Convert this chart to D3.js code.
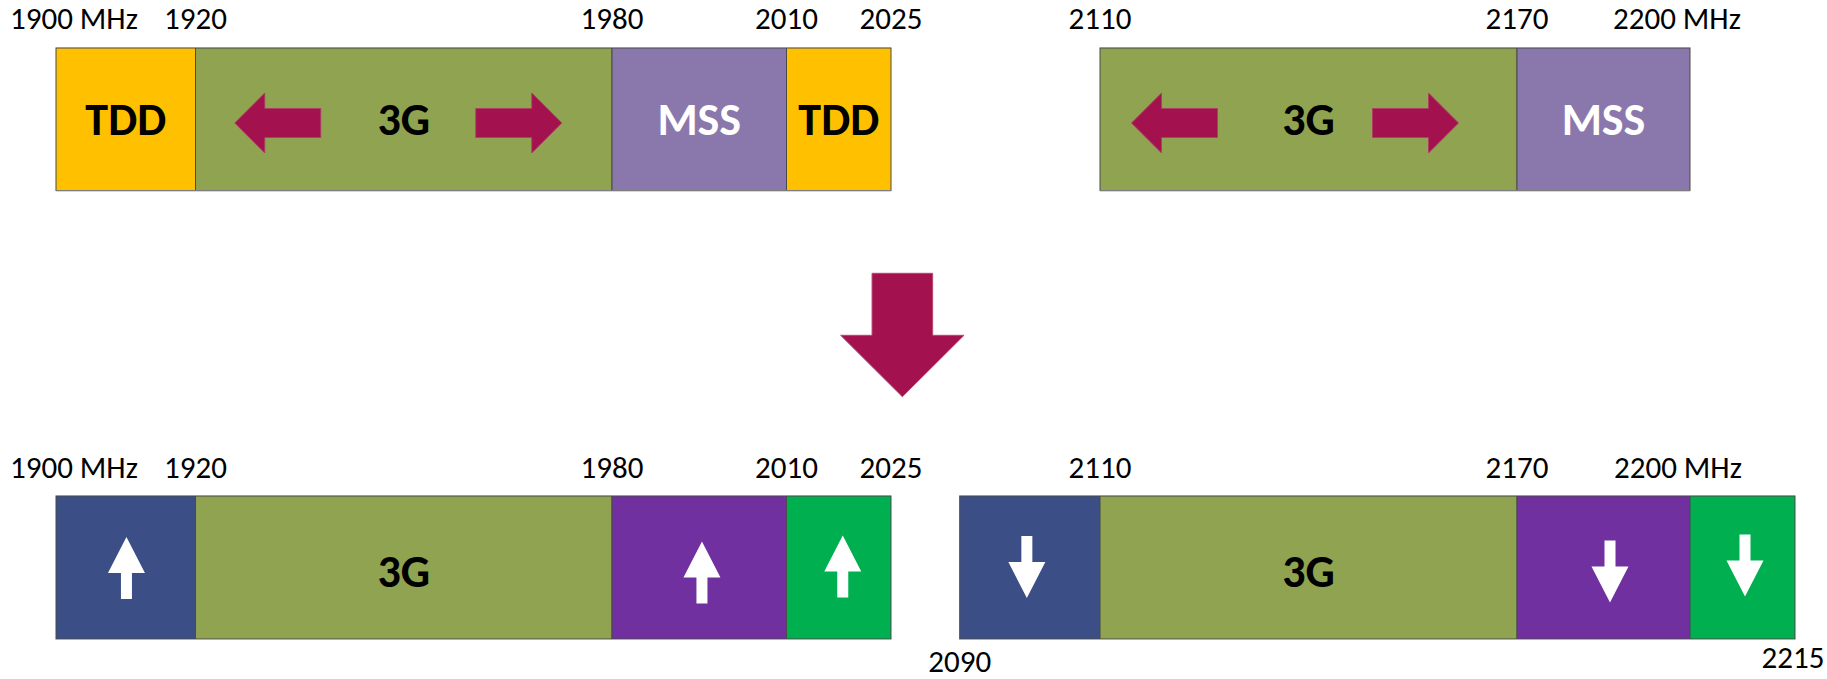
<!DOCTYPE html>
<html>
<head>
<meta charset="utf-8">
<script src="https://cdn.jsdelivr.net/npm/d3@7"></script>
<style>
  html, body { margin: 0; padding: 0; background: #ffffff; }
  svg { display: block; }
  .tick { font-family: Carlito, "Liberation Sans Narrow", Lato, sans-serif; font-size: 31px; fill: #000; }
  .seg { font-family: Carlito, "Liberation Sans Narrow", Lato, sans-serif; font-size: 46px; font-weight: bold; }
</style>
</head>
<body>
<script>
// ---------------- data ----------------
const leftEdges   = [1900, 1920, 1980, 2010, 2025];   // MHz
const rightEdges  = [2090, 2110, 2170, 2200, 2215];   // MHz
const topRightEdges = [2110, 2170, 2200];              // MHz

const topLeftKinds   = ["TDD", "3G", "MSS", "TDD"];
const topRightKinds  = ["3G", "MSS"];
const botLeftKinds   = ["UL1", "3G", "UL2", "UL3"];
const botRightKinds  = ["DL1", "3G", "DL2", "DL3"];

const topLeftText    = ["TDD", "3G", "MSS", "TDD"];
const topRightText   = ["3G", "MSS"];
const botLeftText    = ["", "3G", "", ""];
const botRightText   = ["", "3G", "", ""];

const botLeftDir     = ["up", null, "up", "up"];
const botRightDir    = ["down", null, "down", "down"];

const topLeftTicks   = ["1900 MHz", "1920", "1980", "2010", "2025"];
const topRightTicks  = ["2110", "2170", "2200 MHz"];
const botLeftTicks   = ["1900 MHz", "1920", "1980", "2010", "2025"];
const botRightTicksAbove = ["2110", "2170", "2200 MHz"];
const botRightTicksBelow = ["2090", "2215"];

// ---------------- styles ----------------
const fillOf = {
  "TDD": "#FFC000", "3G": "#8FA350", "MSS": "#8A78AD",
  "UL1": "#3B4E85", "UL2": "#7030A0", "UL3": "#00B050",
  "DL1": "#3B4E85", "DL2": "#7030A0", "DL3": "#00B050"
};
const textColorOf = { "MSS": "#ffffff" };
const maroon = "#A3114F";

// ---------------- layout ----------------
const W = 1827, H = 679;
const svg = d3.select("body").append("svg").attr("width", W).attr("height", H);

// piecewise scales (diagram is not exactly to scale: MSS block compressed)
const xL = d3.scaleLinear().domain(leftEdges).range([56, 195.5, 612, 786.5, 891]);
const xR = d3.scaleLinear().domain(rightEdges).range([959.7, 1100, 1517, 1690, 1795]);
const rowTop = { y0: 48, y1: 190.5 };
const rowBot = { y0: 496, y1: 639 };

function segs(edges, kinds, texts) {
  return kinds.map((k, i) => ({ from: edges[i], to: edges[i + 1], kind: k, text: texts[i], i }));
}

function drawBand(data, x, row, textDy) {
  const g = svg.append("g");
  g.selectAll("rect").data(data).join("rect")
    .attr("x", d => x(d.from)).attr("y", row.y0)
    .attr("width", d => x(d.to) - x(d.from)).attr("height", row.y1 - row.y0)
    .attr("fill", d => fillOf[d.kind])
    .attr("stroke", "#4a4a4a").attr("stroke-width", 1);
  const xa = x(data[0].from), xb = x(data[data.length - 1].to);
  g.append("line").attr("x1", xa).attr("x2", xb).attr("y1", row.y0 - 0.5).attr("y2", row.y0 - 0.5)
    .attr("stroke", "#9a9a9a").attr("stroke-width", 1.2);
  g.append("line").attr("x1", xa).attr("x2", xb).attr("y1", row.y1 + 0.5).attr("y2", row.y1 + 0.5)
    .attr("stroke", "#b0b0b0").attr("stroke-width", 1);
  g.selectAll("text").data(data.filter(d => d.text)).join("text")
    .attr("class", "seg")
    .attr("x", d => (x(d.from) + x(d.to)) / 2)
    .attr("y", (row.y0 + row.y1) / 2 + textDy)
    .attr("text-anchor", "middle").attr("dominant-baseline", "central")
    .attr("fill", d => textColorOf[d.kind] || "#000")
    .text(d => d.text);
  return g;
}

function drawTicks(values, labels, x, baseline, opts = {}) {
  svg.append("g").selectAll("text").data(values.map((v, i) => ({ v, label: labels[i] })))
    .join("text").attr("class", "tick")
    .attr("x", d => /MHz/.test(d.label) ? x(d.v) - (opts.mhzShift || 46) : x(d.v))
    .attr("y", baseline)
    .attr("text-anchor", d => /MHz/.test(d.label) ? "start" : "middle")
    .text(d => d.label);
}

function hArrow(xt, xe, cy, headLen, headHalf, shaftHalf) {
  const s = Math.sign(xe - xt);
  const xb = xt + s * headLen;
  return `M${xt},${cy} L${xb},${cy - headHalf} L${xb},${cy - shaftHalf} L${xe},${cy - shaftHalf} ` +
         `L${xe},${cy + shaftHalf} L${xb},${cy + shaftHalf} L${xb},${cy + headHalf} Z`;
}
function vArrow(cx, yt, ye, headLen, headHalf, shaftHalf) {
  const s = Math.sign(ye - yt);
  const yb = yt + s * headLen;
  return `M${cx},${yt} L${cx + headHalf},${yb} L${cx + shaftHalf},${yb} L${cx + shaftHalf},${ye} ` +
         `L${cx - shaftHalf},${ye} L${cx - shaftHalf},${yb} L${cx - headHalf},${yb} Z`;
}

// ---------- top row ----------
const tl = segs(leftEdges, topLeftKinds, topLeftText);
const tr = segs(topRightEdges, topRightKinds, topRightText);
drawBand(tl, xL, rowTop, 0);
drawBand(tr, xR, rowTop, 0);
drawTicks(leftEdges, topLeftTicks, xL, 28.5, { mhzShift: 46 });
drawTicks(topRightEdges, topRightTicks, xR, 28.5, { mhzShift: 77 });

function twinArrows(seg, x, cy, shift) {
  const c = (x(seg.from) + x(seg.to)) / 2 + shift;
  const g = svg.append("g").attr("fill", maroon).attr("stroke", "#b03a68").attr("stroke-width", 0.8);
  g.append("path").attr("d", hArrow(c - 173, c - 87, cy, 30, 30, 14.5));
  g.append("path").attr("d", hArrow(c + 154, c + 68, cy, 30, 30, 14.5));
}
twinArrows(tl[1], xL, 123, 4);
twinArrows(tr[0], xR, 123, -4);

// ---------- big down arrow ----------
{
  const cx = (xL(2025) + xR(2090)) / 2 - 23;
  svg.append("path")
    .attr("d", vArrow(cx, 396.7, 273.3, 61.4, 61.7, 30.3))
    .attr("fill", maroon).attr("stroke", "#b8456f").attr("stroke-width", 1);
}

// ---------- bottom row ----------
const bl = segs(leftEdges, botLeftKinds, botLeftText);
const br = segs(rightEdges, botRightKinds, botRightText);
drawBand(bl, xL, rowBot, 3.5);
drawBand(br, xR, rowBot, 3.5);
drawTicks(leftEdges, botLeftTicks, xL, 478.3, { mhzShift: 46 });
drawTicks([2110, 2170, 2200], botRightTicksAbove, xR, 478.3, { mhzShift: 76 });
svg.append("g").selectAll("text").data([{ v: 2090, b: 671.5 }, { v: 2215, b: 667.5 }])
  .join("text").attr("class", "tick")
  .attr("x", d => xR(d.v) - (d.v === 2215 ? 2 : 0)).attr("y", d => d.b)
  .attr("text-anchor", "middle")
  .text((d, i) => botRightTicksBelow[i]);

// white direction arrows
const arrowNudge = [{ dx: 0.7, dy: 0.5 }, null, { dx: 2.7, dy: 5 }, { dx: 4, dy: -1 }];
const arrowNudgeR = [{ dx: -3, dy: -0.5 }, null, { dx: 6.5, dy: 4 }, { dx: 2.5, dy: -2 }];
function dirArrows(data, dirs, x, row, nudge) {
  const cy0 = (row.y0 + row.y1) / 2;
  svg.append("g").attr("fill", "#ffffff").selectAll("path")
    .data(data.filter((d) => dirs[d.i]))
    .join("path")
    .attr("d", d => {
      const cx = (x(d.from) + x(d.to)) / 2 + nudge[d.i].dx;
      const cy = cy0 + nudge[d.i].dy;
      return dirs[d.i] === "up"
        ? vArrow(cx, cy - 31, cy + 31, 36, 18.5, 5.5)
        : vArrow(cx, cy + 31, cy - 31, 36, 18.5, 5.5);
    });
}
dirArrows(bl, botLeftDir, xL, rowBot, arrowNudge);
dirArrows(br, botRightDir, xR, rowBot, arrowNudgeR);
</script>
</body>
</html>
